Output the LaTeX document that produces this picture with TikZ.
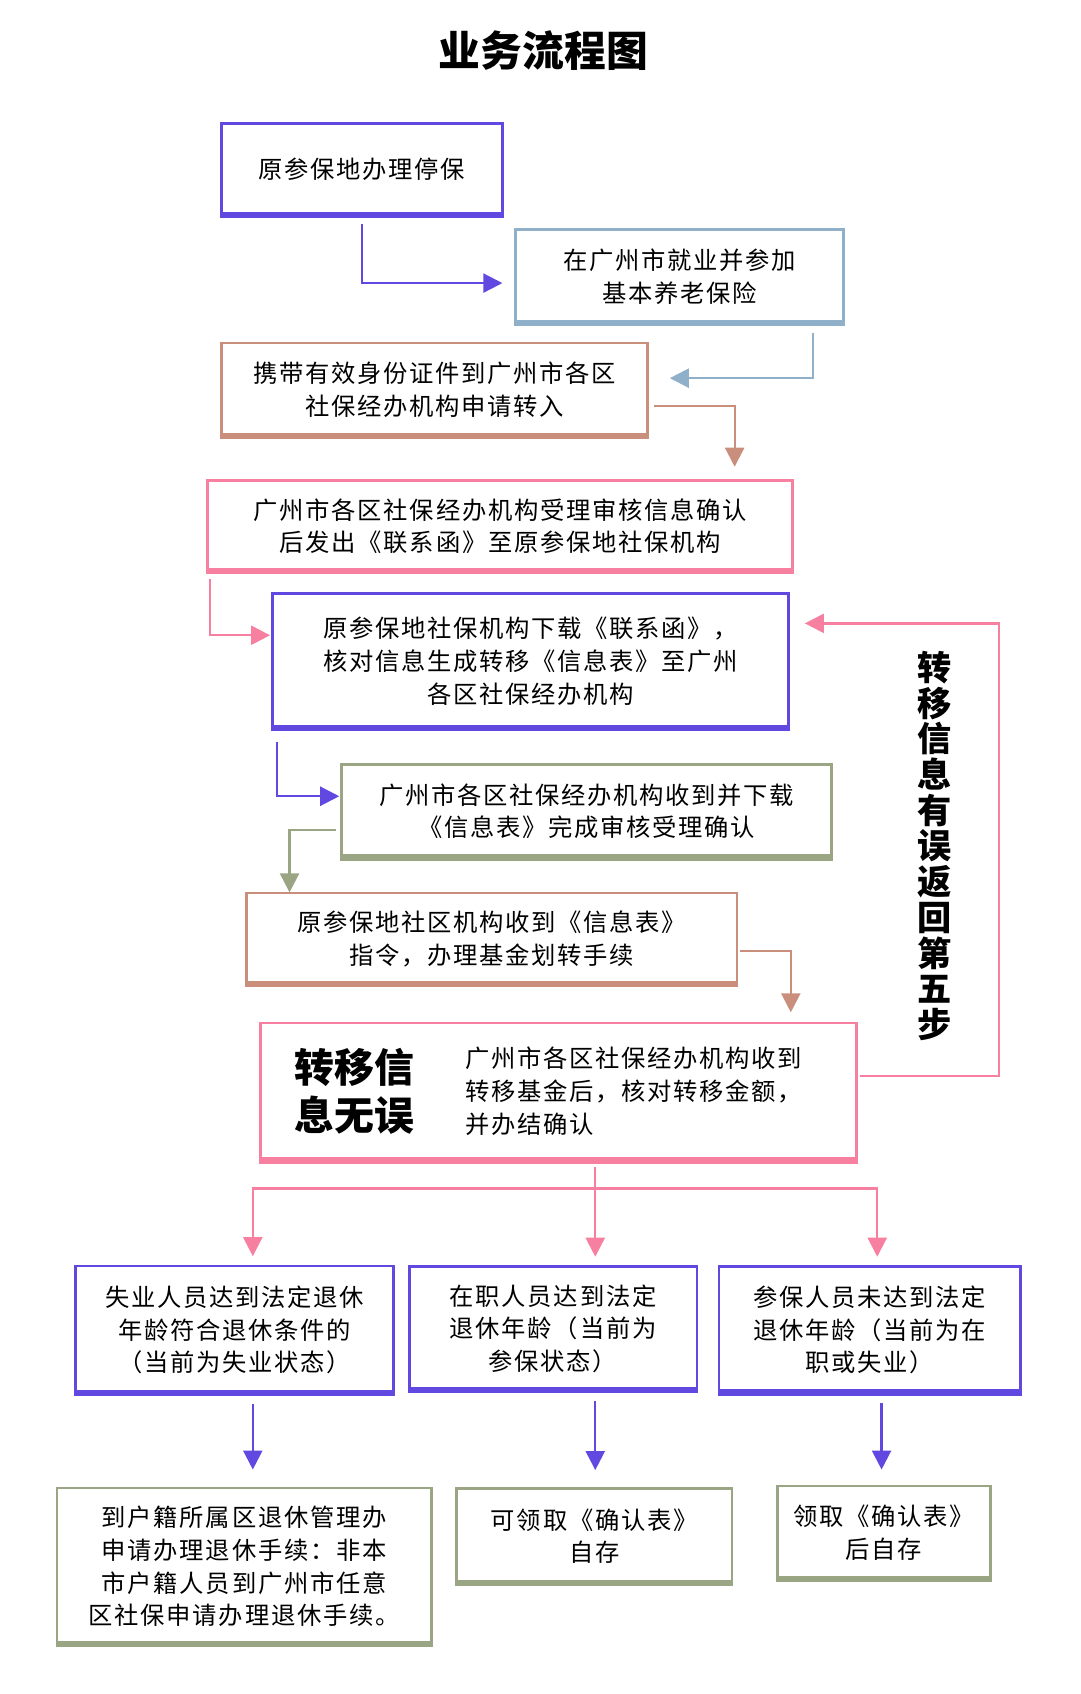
\documentclass[tikz,border=0pt]{standalone}
\usepackage{fontspec}
\setmainfont{Noto Sans CJK SC}
\newfontfamily\spaced[LetterSpace=7]{Noto Sans CJK SC}
\usetikzlibrary{arrows.meta, positioning, calc}
\definecolor{cpurple}{HTML}{6048E0}
\definecolor{cblue}{HTML}{8FB0C8}
\definecolor{cbrown}{HTML}{C98F7C}
\definecolor{cpink}{HTML}{F77FA0}
\definecolor{colive}{HTML}{9AA583}
\tikzset{
  box/.style={draw=#1, line width=0.7pt, fill=white, align=center, inner sep=0pt,
    font=\spaced\fontsize{6.4pt}{8.6pt}\selectfont},
  bar/.style={line width=1.7pt, #1},
  flow/.style={line width=0.6pt, #1, -{Triangle[width=5pt,length=5pt]}}
}
\begin{document}
\begin{tikzpicture}[x=0.01cm, y=-0.01cm]
    \useasboundingbox (0,0) rectangle (1000,1568);

    % Title
    \node[font=\fontsize{11pt}{13pt}\bfseries] (title) at (503,47) {业务流程图};

    % Steps
    \node[box=cpurple, minimum width=2.6cm, minimum height=0.85cm] (s1) at (335,157) {原参保地办理停保};
    \node[box=cblue, minimum width=3.03cm, minimum height=0.87cm] (s2) at (629,256) {在广州市就业并参加\\基本养老保险};
    \node[box=cbrown, minimum width=3.94cm, minimum height=0.87cm] (s3) at (402,361) {携带有效身份证件到广州市各区\\社保经办机构申请转入};
    \node[box=cpink, minimum width=5.41cm, minimum height=0.85cm] (s4) at (463,487) {广州市各区社保经办机构受理审核信息确认\\后发出《联系函》至原参保地社保机构};
    \node[box=cpurple, minimum width=4.77cm, minimum height=1.25cm] (s5) at (491,612) {原参保地社保机构下载《联系函》，\\核对信息生成转移《信息表》至广州\\各区社保经办机构};
    \node[box=colive, minimum width=4.53cm, minimum height=0.87cm] (s6) at (543,751) {广州市各区社保经办机构收到并下载\\《信息表》完成审核受理确认};
    \node[box=cbrown, minimum width=4.54cm, minimum height=0.85cm] (s7) at (455,869) {原参保地社区机构收到《信息表》\\指令，办理基金划转手续};
    \node[box=cpink, minimum width=5.51cm, minimum height=1.28cm] (s8) at (517,1011) {};
    \node[font=\fontsize{10.5pt}{12.5pt}\bfseries, align=left] (ok) at (328,1010) {转移信\\息无误};
    \node[font=\spaced\fontsize{6.4pt}{8.6pt}\selectfont, align=left, anchor=west] (s8t) at (418,1010) {广州市各区社保经办机构收到\\转移基金后，核对转移金额，\\并办结确认};
    \node[font=\fontsize{9pt}{9.4pt}\bfseries, align=center] (back) at (865,783) {转\\移\\信\\息\\有\\误\\返\\回\\第\\五\\步};

    % Outcomes
    \node[box=cpurple, minimum width=2.94cm, minimum height=1.18cm] (r1) at (217,1231) {失业人员达到法定退休\\年龄符合退休条件的\\（当前为失业状态）};
    \node[box=cpurple, minimum width=2.66cm, minimum height=1.15cm] (r2) at (512,1230) {在职人员达到法定\\退休年龄（当前为\\参保状态）};
    \node[box=cpurple, minimum width=2.79cm, minimum height=1.17cm] (r3) at (805,1231) {参保人员未达到法定\\退休年龄（当前为在\\职或失业）};
    \node[box=colive, minimum width=3.46cm, minimum height=1.45cm] (e1) at (226,1450) {到户籍所属区退休管理办\\申请办理退休手续：非本\\市户籍人员到广州市任意\\区社保申请办理退休手续。};
    \node[box=colive, minimum width=2.55cm, minimum height=0.88cm] (e2) at (550,1422) {可领取《确认表》\\自存};
    \node[box=colive, minimum width=1.97cm, minimum height=0.87cm] (e3) at (818,1419) {领取《确认表》\\后自存};

    % Bottom bars
    \foreach \n/\c in {s1/cpurple, s2/cblue, s3/cbrown, s4/cpink, s5/cpurple, s6/colive,
        s7/cbrown, s8/cpink, r1/cpurple, r2/cpurple, r3/cpurple, e1/colive, e2/colive, e3/colive} {
        \draw[bar=\c] ($(\n.south west)+(0,-2)$) -- ($(\n.south east)+(0,-2)$);
    }

    % Connectors
    \coordinate (a2) at (465,262);
    \draw[flow=cpurple] ($(s1.south)+(0,7)$) |- (a2);
    \coordinate (a3) at (620,350);
    \draw[flow=cblue] ($(s2.south east)+(-29,7)$) |- (a3);
    \coordinate (a4) at (680,432);
    \draw[flow=cbrown] ($(s3.east)+(5,15)$) -| (a4);
    \coordinate (a5) at (250,588);
    \draw[flow=cpink] ($(s4.south west)+(3,5)$) |- (a5);
    \coordinate (a6) at (314,737);
    \draw[flow=cpurple] ($(s5.south west)+(5,11)$) |- (a6);
    \coordinate (a7) at (268,826);
    \draw[flow=colive] ($(s6.west)+(-4,17)$) -| (a7);
    \coordinate (a8) at (732,937);
    \draw[flow=cbrown] ($(s7.east)+(2,11)$) -| (a8);
    \coordinate (a9) at (745,577);
    \draw[flow=cpink] ($(s8.east)+(2,-15)$) -- (925,996) |- (a9);

    \coordinate (split) at (551,1100);
    \draw[line width=0.6pt, cpink] ($(s8.south)+(34,4)$) -- (split);
    \draw[flow=cpink] (split) -| ($(r1.north)+(17,-8)$);
    \draw[flow=cpink] (split) -- ($(r2.north)+(39,-8)$);
    \draw[flow=cpink] (split) -| ($(r3.north)+(7,-8)$);

    \draw[flow=cpurple] ($(r1.south)+(17,8)$) -- ($(e1.north)+(8,-16)$);
    \draw[flow=cpurple] ($(r2.south)+(39,8)$) -- ($(e2.north)+(1,-16)$);
    \draw[flow=cpurple] ($(r3.south)+(11,8)$) -- ($(e3.north)+(-2,-14)$);
\end{tikzpicture}
\end{document}
